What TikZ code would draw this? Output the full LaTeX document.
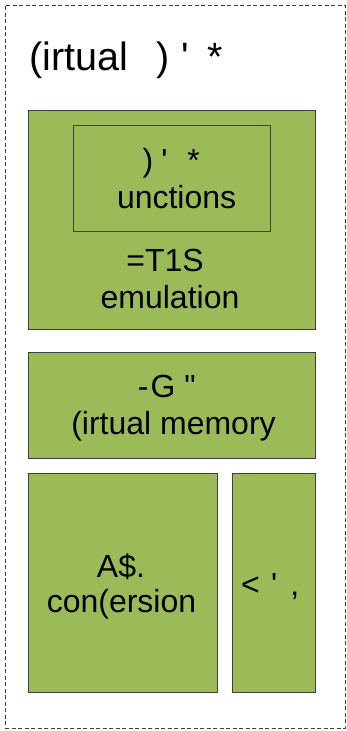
\documentclass[tikz,border=0pt]{standalone}
\usepackage{fontspec}
\setmainfont{Liberation Sans}
\begin{document}
\begin{tikzpicture}[x=1pt,y=-1pt,
  greenbox/.style={draw=black!75,fill=boxgreen,line width=1pt,inner sep=0pt,anchor=north west},
  boxtext/.style={font=\fontsize{32}{37}\selectfont,inner sep=0pt,text=black},
  titletext/.style={font=\fontsize{39.5}{44}\selectfont,inner sep=0pt,text=black},
  outerbox/.style={draw=black!75,line width=0.8pt,dash pattern=on 4pt off 2.5pt}]
\definecolor{boxgreen}{HTML}{9BBB59}
\useasboundingbox (0,0) rectangle (346,731);
% outer dashed frame
\node[outerbox,inner sep=0pt,anchor=north west,minimum width=339.5pt,minimum height=723.5pt] (outer) at (5,4.5) {};
% title
\node[titletext,anchor=base west] (title) at (29.3,70.7)
  {(irtual\hspace{27.8pt})\hspace{12.3pt}\textquotesingle\hspace{18.8pt}*};
% box 1 with inner box
\node[greenbox,minimum width=287.6pt,minimum height=219.3pt] (b1) at (27.7,110) {};
\node[greenbox,minimum width=197pt,minimum height=105.7pt] (b1in) at (73,125.3) {};
\node[boxtext,anchor=base west] (t1a) at (142.4,171.5)
  {)\hspace{8pt}\textquotesingle\hspace{20pt}*};
\node[boxtext,anchor=base] (t1b) at (176.6,208.3) {unctions};
\node[boxtext,anchor=base] (t1c) at (165,271.5) {=T1S};
\node[boxtext,anchor=base] (t1d) at (170,308.3) {emulation};
% box 2
\node[greenbox,minimum width=287.6pt,minimum height=105.4pt] (b2) at (27.7,352.3) {};
\node[boxtext,anchor=base west] (t2a) at (137.7,397.3)
  {-\hspace{2pt}G\hspace{9pt}\textquotedbl};
\node[boxtext,anchor=base] (t2b) at (173.5,434.3) {(irtual memory};
% box 3
\node[greenbox,minimum width=189.3pt,minimum height=219pt] (b3) at (27.7,473.3) {};
\node[boxtext,anchor=base] (t3a) at (121,577.3) {A\$.};
\node[boxtext,anchor=base] (t3b) at (121.5,612) {con(ersion};
% box 4
\node[greenbox,minimum width=83.3pt,minimum height=219pt] (b4) at (232,473.3) {};
\node[boxtext,anchor=base west] (t4) at (241,595)
  {<\hspace{11.3pt}\textquotesingle\hspace{13pt},};
\end{tikzpicture}
\end{document}
